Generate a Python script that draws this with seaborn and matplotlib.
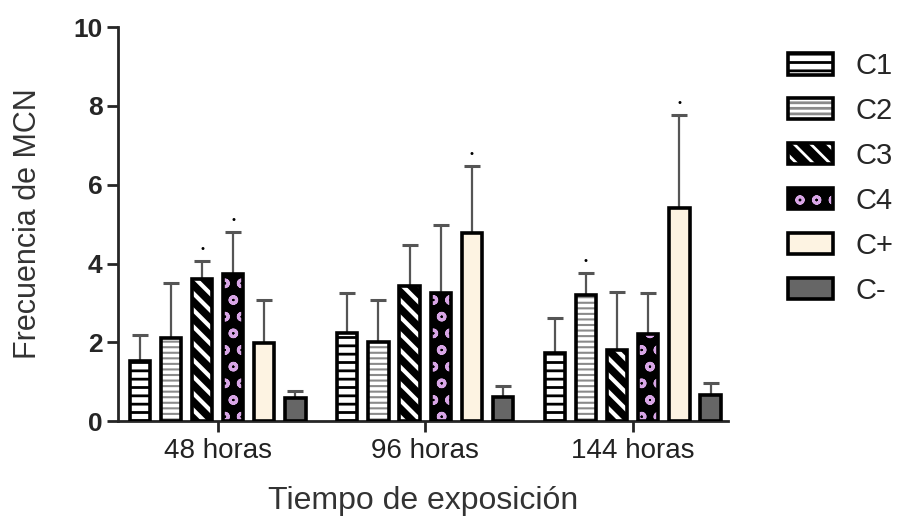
import matplotlib
matplotlib.use("Agg")
import matplotlib.pyplot as plt
from matplotlib.patches import Rectangle
from matplotlib.legend_handler import HandlerTuple
import seaborn as sns
import pandas as pd

# Data
tiempos = ["48 horas", "96 horas", "144 horas"]
condiciones = ["C1", "C2", "C3", "C4", "C+", "C-"]
medias = {
    "C1": [1.52, 2.23, 1.73],
    "C2": [2.12, 2.00, 3.20],
    "C3": [3.60, 3.43, 1.80],
    "C4": [3.73, 3.25, 2.21],
    "C+": [1.98, 4.77, 5.40],
    "C-": [0.58, 0.61, 0.66],
}
desv = {
    "C1": [0.66, 1.02, 0.89],
    "C2": [1.38, 1.07, 0.56],
    "C3": [0.46, 1.04, 1.47],
    "C4": [1.07, 1.72, 1.04],
    "C+": [1.10, 1.70, 2.37],
    "C-": [0.18, 0.28, 0.30],
}
# (tiempo, condicion) marked with a dot above the error bar
significativos = [("48 horas", "C3"), ("48 horas", "C4"), ("96 horas", "C+"),
                  ("144 horas", "C2"), ("144 horas", "C+")]

# fill colour, hatch, hatch colour, hatch width
estilos = {
    "C1": ("white", "--", "black", 2.0),
    "C2": ("white", "---", "#8a8a8a", 1.5),
    "C3": ("black", "\\\\", "white", 3.0),
    "C4": ("black", "o", "#d8a6e6", 2.2),
    "C+": ("#fdf3e2", "", "black", 1.0),
    "C-": ("#666666", "", "black", 1.0),
}

rows = []
for c in condiciones:
    for t, m, s in zip(tiempos, medias[c], desv[c]):
        rows.append({"tiempo": t, "condicion": c, "media": m, "sd": s})
df = pd.DataFrame(rows)

sns.set_style("ticks")
plt.rcParams["font.family"] = ["Liberation Sans", "DejaVu Sans"]
plt.rcParams["hatch.linewidth"] = 2.0


def pon_hatch(p, hatch, color, lw):
    p.set_hatch(hatch)
    p.set_edgecolor(color)
    p.set_linewidth(0)
    if hasattr(p, "set_hatch_linewidth"):
        p.set_hatch_linewidth(lw)


fig = plt.figure(figsize=(9.04, 5.2), dpi=100)
ax = fig.add_axes([0.1305, 0.19, 0.675, 0.758])

palette = {c: estilos[c][0] for c in condiciones}
sns.barplot(data=df, x="tiempo", y="media", hue="condicion", order=tiempos,
            hue_order=condiciones, palette=palette, width=0.9, gap=0.35,
            errorbar=None, legend=False, ax=ax, zorder=2)

handles = []
for cont, c in zip(ax.containers, condiciones):
    face, hatch, hcol, hlw = estilos[c]
    sub = df[df["condicion"] == c].set_index("tiempo").loc[tiempos]
    xs = []
    for bar in cont:
        bar.set_facecolor(face)
        pon_hatch(bar, hatch, hcol, hlw)
        x0, w, h = bar.get_x(), bar.get_width(), bar.get_height()
        ax.add_patch(Rectangle((x0, 0), w, h, fill=False, edgecolor="black",
                               linewidth=2.6, zorder=3))
        xs.append(x0 + w / 2)
    ax.errorbar(xs, sub["media"], yerr=[[0] * len(xs), sub["sd"]], fmt="none",
                ecolor="#555555", elinewidth=1.6, capsize=6, capthick=2.2,
                zorder=1)
    for (t, cc) in significativos:
        if cc == c:
            i = tiempos.index(t)
            ax.text(xs[i], sub["media"].iloc[i] + sub["sd"].iloc[i] + 0.3, "•",
                    ha="center", va="center", fontsize=8, color="black")
    fill = Rectangle((0, 0), 1, 1, facecolor=face)
    pon_hatch(fill, hatch, hcol, hlw)
    edge = Rectangle((0, 0), 1, 1, fill=False, edgecolor="black", linewidth=2.6)
    handles.append((fill, edge))

ax.set_ylim(0, 10)
ax.set_xlim(-0.48, 2.46)
ax.set_yticks([0, 2, 4, 6, 8, 10])
ax.set_yticklabels(["0", "2", "4", "6", "8", "10"], fontweight="bold")
ax.tick_params(axis="y", labelsize=19, width=2, length=8, pad=3)
ax.tick_params(axis="x", labelsize=20, width=2, length=8, pad=4)
for lab in ax.get_xticklabels():
    lab.set_color("#222222")
ax.set_xlabel("Tiempo de exposición", fontsize=23, labelpad=16, color="#333333")
ax.set_ylabel("Frecuencia de MCN", fontsize=22, labelpad=22, color="#333333")
sns.despine(ax=ax)
for s in ["left", "bottom"]:
    ax.spines[s].set_linewidth(2)

fig.legend(handles, condiciones, handler_map={tuple: HandlerTuple(ndivide=1)},
           loc="upper left", bbox_to_anchor=(0.872, 0.9), frameon=False,
           fontsize=21, handlelength=1.55, handleheight=0.75, labelspacing=0.58,
           handletextpad=0.75, borderaxespad=0, borderpad=0)

fig.savefig("out.png", dpi=100)
